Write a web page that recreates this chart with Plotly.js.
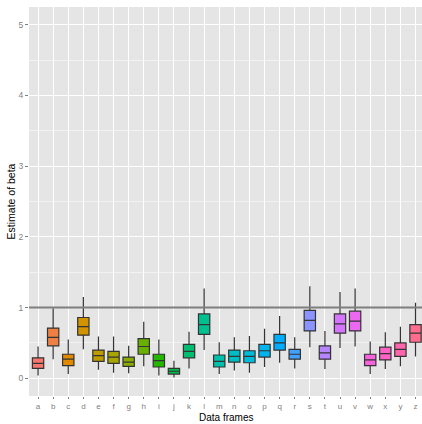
<!DOCTYPE html>
<html>
<head>
<meta charset="utf-8">
<script src="https://cdn.plot.ly/plotly-3.0.1.min.js"></script>
<style>html,body{margin:0;padding:0;background:#fff;}#chart{width:422px;height:424px;}</style>
</head>
<body>
<div id="chart"></div>
<script>
// Data frames (categories)
const categories = ["a","b","c","d","e","f","g","h","i","j","k","l","m","n","o","p","q","r","s","t","u","v","w","x","y","z"];
// Box statistics
const lowerWhisker = [0.04,0.27,0.06,0.41,0.12,0.08,0.07,0.17,0.04,0.01,0.14,0.40,0.06,0.11,0.08,0.16,0.22,0.14,0.44,0.13,0.43,0.45,0.06,0.13,0.17,0.31];
const q1Values     = [0.14,0.46,0.18,0.61,0.24,0.21,0.17,0.34,0.16,0.06,0.29,0.62,0.16,0.23,0.22,0.30,0.40,0.27,0.67,0.27,0.64,0.67,0.18,0.26,0.31,0.51];
const medianValues = [0.21,0.58,0.27,0.73,0.32,0.30,0.23,0.45,0.25,0.10,0.38,0.76,0.24,0.31,0.31,0.39,0.50,0.34,0.82,0.36,0.77,0.81,0.26,0.35,0.41,0.64];
const q3Values     = [0.29,0.71,0.34,0.86,0.40,0.38,0.30,0.56,0.34,0.14,0.48,0.91,0.33,0.40,0.39,0.48,0.62,0.41,0.96,0.46,0.91,0.95,0.34,0.44,0.50,0.76];
const upperWhisker = [0.45,0.99,0.55,1.15,0.59,0.59,0.46,0.80,0.55,0.25,0.66,1.27,0.51,0.58,0.60,0.70,0.88,0.58,1.30,0.67,1.22,1.27,0.52,0.65,0.73,1.07];
const referenceValue = 1;
const yTickValues = [0,1,2,3,4,5];
const xTitle = 'Data frames';
const yTitle = 'Estimate of beta';

// ggplot2 default hue palette (hcl, c=100, l=65)
function hcl2hex(h, c, l) {
  const WHITE_Y = 100, WHITE_u = 0.1978398, WHITE_v = 0.4683363;
  const hr = h * Math.PI / 180;
  const U = c * Math.cos(hr), V = c * Math.sin(hr);
  const Y = WHITE_Y * (l > 7.999592 ? Math.pow((l + 16) / 116, 3) : l / 903.3);
  const u = U / (13 * l) + WHITE_u, v = V / (13 * l) + WHITE_v;
  const X = 9.0 * Y * u / (4 * v);
  const Z = -X / 3 - 5 * Y + 3 * Y / v;
  const g = t => t > 0.00304 ? 1.055 * Math.pow(t, 1 / 2.4) - 0.055 : 12.92 * t;
  let r = g((3.240479 * X - 1.537150 * Y - 0.498535 * Z) / WHITE_Y);
  let gg = g((-0.969256 * X + 1.875992 * Y + 0.041556 * Z) / WHITE_Y);
  let b = g((0.055648 * X - 0.204043 * Y + 1.057311 * Z) / WHITE_Y);
  const cl = t => Math.round(Math.max(0, Math.min(1, t)) * 255);
  return 'rgb(' + cl(r) + ',' + cl(gg) + ',' + cl(b) + ')';
}
const n = categories.length;
const colors = categories.map((_, i) => hcl2hex(15 + i * 360 / n, 100, 65));

const traces = categories.map((cat, i) => ({
  type: 'box',
  x: [cat],
  q1: [q1Values[i]],
  median: [medianValues[i]],
  q3: [q3Values[i]],
  lowerfence: [lowerWhisker[i]],
  upperfence: [upperWhisker[i]],
  boxpoints: false,
  width: 0.75,
  whiskerwidth: 0,
  fillcolor: colors[i],
  line: {color: '#333333', width: 1.2},
  hoverinfo: 'skip',
  showlegend: false
}));

const layout = {
  width: 422, height: 424,
  margin: {l: 29, r: 0, t: 7, b: 28, pad: 0},
  paper_bgcolor: '#ffffff',
  plot_bgcolor: '#E5E5E5',
  font: {family: 'Liberation Sans, Arial, sans-serif'},
  showlegend: false,
  xaxis: {
    type: 'category',
    categoryarray: categories, categoryorder: 'array',
    range: [-0.6, 25.43],
    showgrid: true, gridcolor: '#ffffff', gridwidth: 1,
    zeroline: false, showline: false,
    ticks: 'outside', ticklen: 2, tickcolor: '#7F7F7F', tickwidth: 1,
    tickfont: {size: 8, color: '#7F7F7F'},
    automargin: false
  },
  yaxis: {
    range: [-0.25, 5.25],
    tickvals: yTickValues,
    showgrid: true, gridcolor: '#ffffff', gridwidth: 1,
    minor: {dtick: 0.5, tick0: 0, showgrid: true, gridcolor: '#F2F2F2', gridwidth: 1, ticks: ''},
    zeroline: false, showline: false,
    ticks: 'outside', ticklen: 3, tickcolor: '#7F7F7F', tickwidth: 1,
    tickfont: {size: 8.5, color: '#7F7F7F'},
    automargin: false,
    title: {text: yTitle, font: {size: 10.5, color: '#000'}, standoff: 0}
  },
  annotations: [{
    text: xTitle, xref: 'paper', yref: 'paper', x: 0.5, y: 0,
    xanchor: 'center', yanchor: 'bottom', yshift: -28, borderpad: 0, showarrow: false,
    font: {size: 10, color: '#000'}
  }],
  shapes: [{
    type: 'line', xref: 'paper', x0: 0, x1: 1, yref: 'y', y0: referenceValue, y1: referenceValue,
    line: {color: '#7F7F7F', width: 2}, layer: 'above'
  }]
};

Plotly.newPlot('chart', traces, layout, {displayModeBar: false, staticPlot: true});
</script>
</body>
</html>
